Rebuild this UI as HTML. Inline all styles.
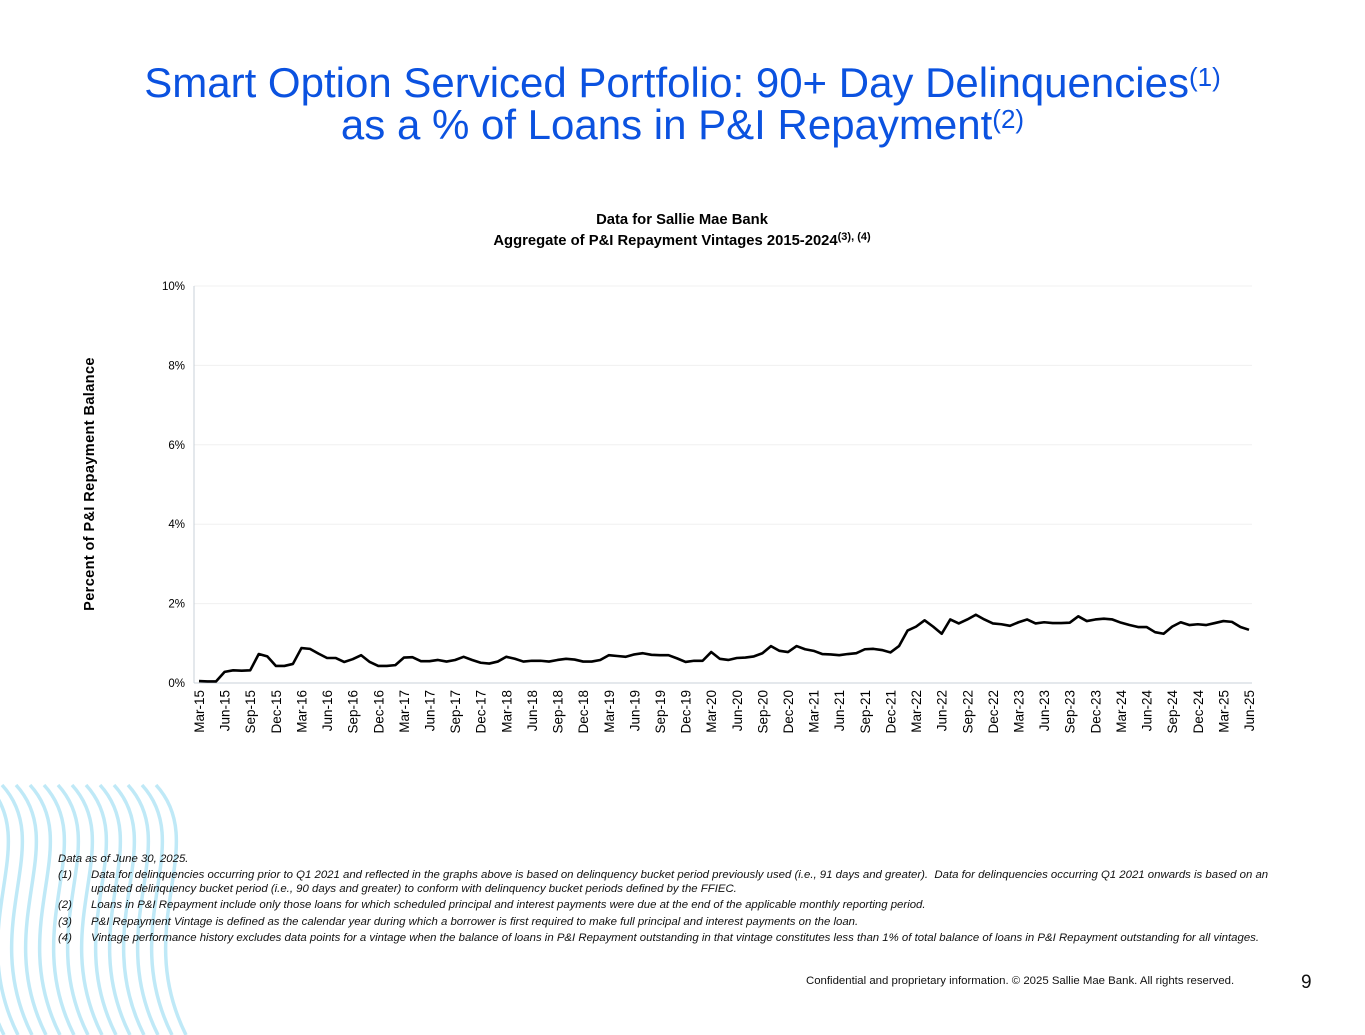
<!DOCTYPE html>
<html><head><meta charset="utf-8"><style>
body{margin:0;width:1365px;height:1024px;position:relative;background:#fff;font-family:"Liberation Sans",Arial,sans-serif;overflow:hidden}
.t{position:absolute;left:0;width:1365px;text-align:center;color:#0b52e0;font-size:42px;line-height:42px}
.t sup{font-size:26px;vertical-align:top;position:relative;top:-6px}
.fn{position:absolute;font-size:11.4px;font-style:italic;color:#111;line-height:14px}
</style></head><body>
<svg width="260" height="260" style="position:absolute;left:0;top:775px" viewBox="0 0 260 260">
<g fill="none" stroke="#bfe9f7" stroke-width="3.5" id="waves"></g>
</svg>
<div class="t" style="top:62px">Smart Option Serviced Portfolio: 90+ Day Delinquencies<sup>(1)</sup><br>as a % of Loans in P&amp;I Repayment<sup>(2)</sup></div>
<svg id="chart" width="1365" height="780" style="position:absolute;left:0;top:0">
<text x="682" y="224" text-anchor="middle" font-size="14.8" font-weight="bold" font-family="Liberation Sans, sans-serif">Data for Sallie Mae Bank</text>
<text x="682" y="245" text-anchor="middle" font-size="14.8" font-weight="bold" font-family="Liberation Sans, sans-serif">Aggregate of P&amp;I Repayment Vintages 2015-2024<tspan font-size="11" dy="-5">(3), (4)</tspan></text>
<text transform="translate(94,484) rotate(-90)" text-anchor="middle" font-size="14.5" font-weight="bold" letter-spacing="0.4" font-family="Liberation Sans, sans-serif">Percent of P&amp;I Repayment  Balance</text>
<g id="grid"></g><g id="xt"></g>
</svg>
<div class="fn" style="left:58px;top:852px">Data as of June 30, 2025.</div>
<div class="fn" style="left:58px;top:868px">(1)</div>
<div class="fn" style="left:91px;top:868px;width:1190px">Data for delinquencies occurring prior to Q1 2021 and reflected in the graphs above is based on delinquency bucket period previously used (i.e., 91 days and greater).&nbsp; Data for delinquencies occurring Q1 2021 onwards is based on an updated delinquency bucket period (i.e., 90 days and greater) to conform with delinquency bucket periods defined by the FFIEC.</div>
<div class="fn" style="left:58px;top:898px">(2)</div>
<div class="fn" style="left:91px;top:898px">Loans in P&amp;I Repayment include only those loans for which scheduled principal and interest payments were due at the end of the applicable monthly reporting period.</div>
<div class="fn" style="left:58px;top:915px">(3)</div>
<div class="fn" style="left:91px;top:915px">P&amp;I Repayment Vintage is defined as the calendar year during which a borrower is first required to make full principal and interest payments on the loan.</div>
<div class="fn" style="left:58px;top:931px">(4)</div>
<div class="fn" style="left:91px;top:931px">Vintage performance history excludes data points for a vintage when the balance of loans in P&amp;I Repayment outstanding in that vintage constitutes less than 1% of total balance of loans in P&amp;I Repayment outstanding for all vintages.</div>
<div style="position:absolute;left:806px;top:975px;font-size:11.4px;color:#111">Confidential and proprietary information. © 2025 Sallie Mae Bank. All rights reserved.</div>
<div style="position:absolute;left:1301px;top:972px;font-size:19px;color:#111">9</div>
<script>
const values=[0.05,0.04,0.04,0.28,0.32,0.31,0.32,0.73,0.67,0.43,
0.43,0.48,0.88,0.86,0.74,0.63,0.63,0.53,0.6,0.7,0.53,0.43,
0.43,0.45,0.64,0.65,0.55,0.55,0.58,0.54,0.58,0.66,0.58,0.51,
0.49,0.54,0.66,0.61,0.54,0.56,0.56,0.54,0.58,0.61,0.59,0.54,
0.54,0.58,0.7,0.68,0.66,0.72,0.75,0.71,0.7,0.7,0.62,0.53,
0.56,0.56,0.78,0.61,0.58,0.63,0.64,0.67,0.75,0.93,0.81,0.78,
0.93,0.85,0.81,0.73,0.72,0.7,0.73,0.75,0.85,0.86,0.83,0.77,
0.93,1.32,1.42,1.58,1.42,1.24,1.6,1.5,1.6,1.72,1.6,1.5,
1.48,1.44,1.53,1.6,1.5,1.53,1.51,1.51,1.52,1.68,1.56,1.6,
1.62,1.6,1.52,1.46,1.41,1.41,1.28,1.24,1.42,1.53,1.46,1.48,
1.46,1.51,1.56,1.54,1.41,1.34];
const yTicks=[0,2,4,6,8,10];
const yTickLabels=["0%","2%","4%","6%","8%","10%"];
const monthNames=["Jan","Feb","Mar","Apr","May","Jun","Jul","Aug","Sep","Oct","Nov","Dec"];
const startYear=2015, startMonth=2;
const NS="http://www.w3.org/2000/svg";
const x0=199,x1=1249,yb=683,yt=286;
const xs=i=>x0+(x1-x0)*i/(values.length-1);
const ys=v=>yb-(yb-yt)*v/10;
const g=document.getElementById('grid'),xt=document.getElementById('xt');
function mk(tag,at,p){const e=document.createElementNS(NS,tag);for(const k in at)e.setAttribute(k,at[k]);p.appendChild(e);return e;}
yTicks.forEach((t,i)=>{
 const l=mk('line',{x1:194,x2:1252,y1:ys(t),y2:ys(t),stroke:t===0?'#c8d0d8':'#f0f0f0','stroke-width':1},g);
 
 
 const tx=mk('text',{x:185,y:ys(t)+4,'text-anchor':'end','font-size':11.5,'font-family':'Liberation Sans, sans-serif'},g);
 tx.textContent=yTickLabels[i];
 
 
});
const ax=mk('line',{x1:194,x2:194,y1:yt,y2:yb,stroke:'#c8d0d8'},g);


for(let i=0;i<values.length;i+=3){
 const m=(startMonth+i)%12,y=startYear+Math.floor((startMonth+i)/12);
 const tx=mk('text',{transform:`translate(${xs(i)+5},690) rotate(-90)`,'text-anchor':'end','font-size':13.5,'font-family':'Liberation Sans, sans-serif'},xt);
 tx.textContent=monthNames[m]+'-'+String(y%100).padStart(2,'0');
 
 
}
const p=mk('polyline',{points:values.map((v,i)=>xs(i)+','+ys(v)).join(' '),fill:'none',stroke:'#000','stroke-width':2.6,'stroke-linejoin':'round'},document.getElementById('chart'));


const w=document.getElementById('waves');
for(let k=0;k<15;k++){
 const x=-40+k*14;
 const pa=mk('path',{d:`M${x} 10 C ${x+55} 70, ${x-25} 150, ${x+30} 260`},w);
 
 
}
</script>
</body></html>
